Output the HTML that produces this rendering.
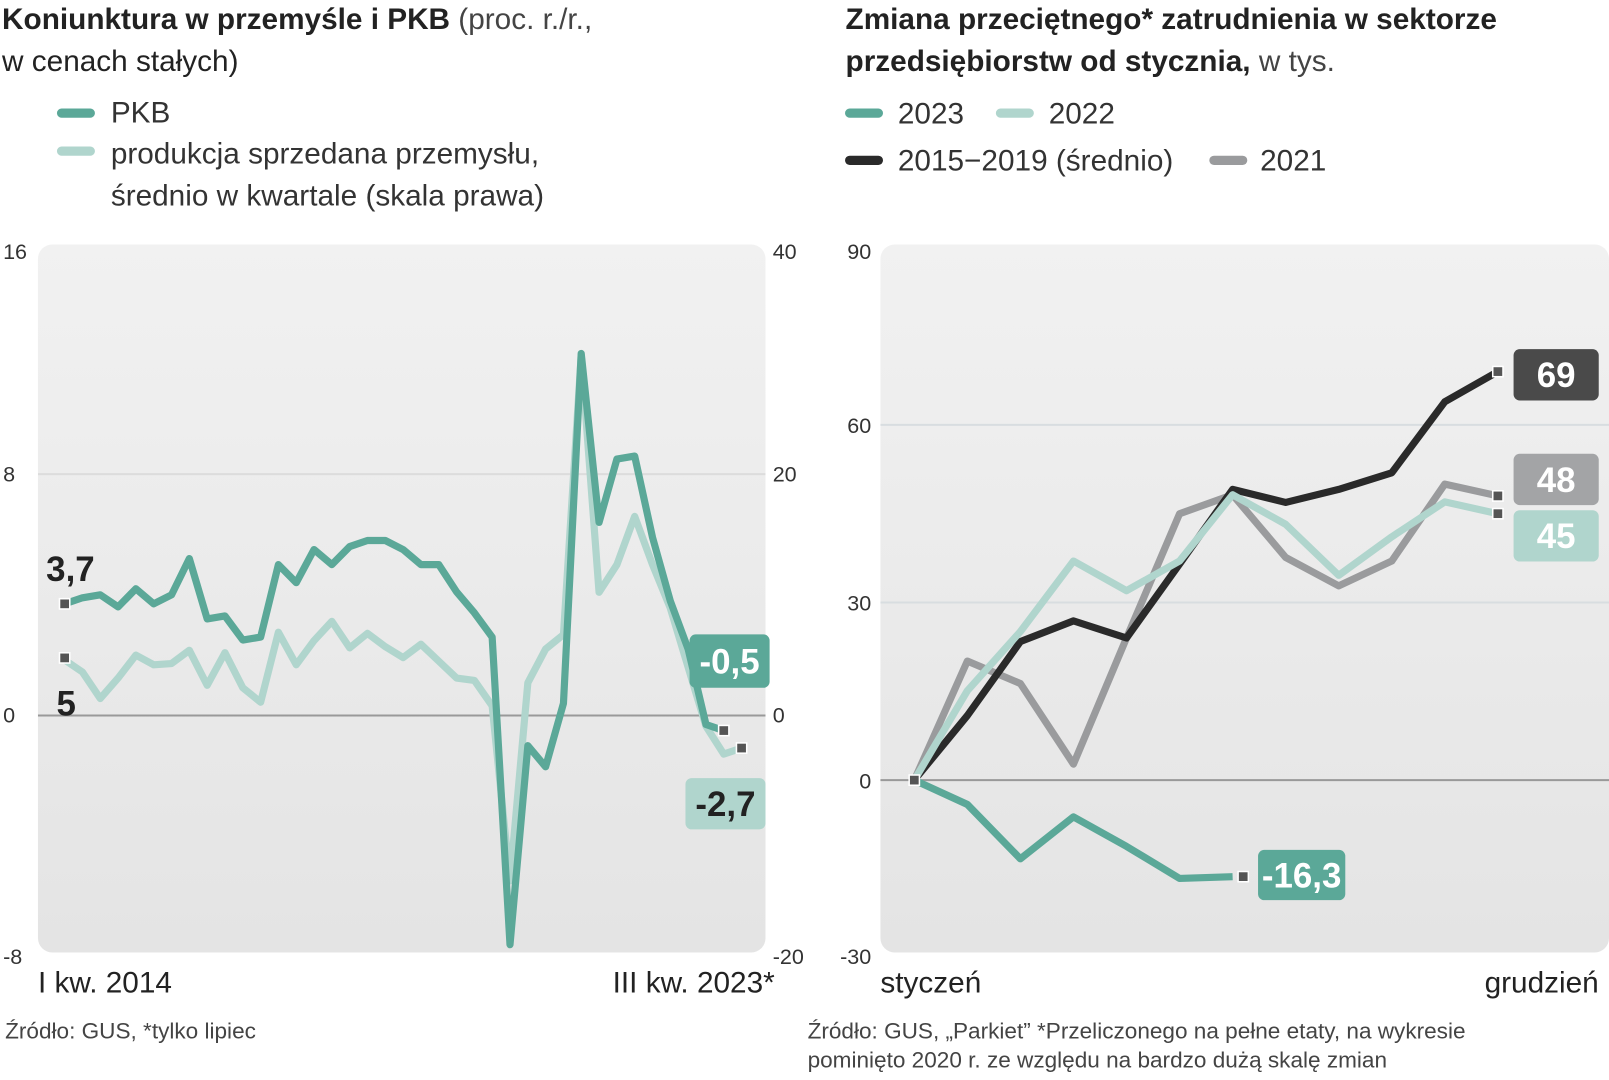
<!DOCTYPE html>
<html><head><meta charset="utf-8"><style>
html,body{margin:0;padding:0;background:#fff;}
svg{display:block;font-family:"Liberation Sans Narrow","Liberation Sans",sans-serif;}
.t{fill:#222;font-size:29px;}
.tb{font-weight:bold;}
.l{fill:#333;font-size:29px;}
.ax{fill:#333;font-size:21px;}
.src{fill:#444;font-size:22px;}
.lab{font-weight:bold;font-size:34px;}
</style></head><body>
<svg id="s" width="1609" height="1080" viewBox="0 0 1568 1052" xmlns="http://www.w3.org/2000/svg">
<defs>
<linearGradient id="bg" x1="0" y1="0" x2="0" y2="1"><stop offset="0" stop-color="#f1f1f1"/><stop offset="1" stop-color="#e4e4e4"/></linearGradient>
</defs>
<!-- Left header -->
<text x="2" y="28" class="t"><tspan class="tb">Koniunktura w przemyśle i PKB</tspan><tspan fill="#444"> (proc. r./r.,</tspan></text>
<text x="2" y="69" class="t" fill="#444">w cenach stałych)</text>
<line x1="60" y1="110" x2="88" y2="110" stroke="#5ba898" stroke-width="9" stroke-linecap="round"/>
<text x="108" y="119" class="l">PKB</text>
<line x1="60" y1="147" x2="88" y2="147" stroke="#b0d5cd" stroke-width="9" stroke-linecap="round"/>
<text x="108" y="159" class="l">produkcja sprzedana przemysłu,</text>
<text x="108" y="200" class="l">średnio w kwartale (skala prawa)</text>
<!-- Right header -->
<text x="824" y="28" class="t tb">Zmiana przeciętnego* zatrudnienia w sektorze</text>
<text x="824" y="69" class="t"><tspan class="tb">przedsiębiorstw od stycznia,</tspan><tspan fill="#444"> w tys.</tspan></text>
<line x1="828" y1="110" x2="856" y2="110" stroke="#5ba898" stroke-width="9" stroke-linecap="round"/>
<text x="875" y="120" class="l">2023</text>
<line x1="975" y1="110" x2="1003" y2="110" stroke="#b0d5cd" stroke-width="9" stroke-linecap="round"/>
<text x="1022" y="120" class="l">2022</text>
<line x1="828" y1="156" x2="856" y2="156" stroke="#2a2a2a" stroke-width="9" stroke-linecap="round"/>
<text x="875" y="166" class="l">2015−2019 (średnio)</text>
<line x1="1183" y1="156" x2="1211" y2="156" stroke="#9a9b9d" stroke-width="9" stroke-linecap="round"/>
<text x="1228" y="166" class="l">2021</text>

<rect x="37" y="238" width="709" height="690" rx="14" fill="url(#bg)"/>
<rect x="858" y="238" width="710" height="690" rx="14" fill="url(#bg)"/>
<g id="L"></g><g id="R"></g>

<text x="37" y="967" class="t">I kw. 2014</text>
<text x="755" y="967" class="t" text-anchor="end">III kw. 2023*</text>
<text x="858" y="967" class="t">styczeń</text>
<text x="1558" y="967" class="t" text-anchor="end">grudzień</text>
<text x="5" y="1012" class="src">Źródło: GUS, *tylko lipiec</text>
<text x="787" y="1012" class="src">Źródło: GUS, „Parkiet” *Przeliczonego na pełne etaty, na wykresie</text>
<text x="787" y="1040" class="src">pominięto 2020 r. ze względu na bardzo dużą skalę zmian</text>
</svg>
<script>
const pkb=[3.7,3.9,4.0,3.6,4.2,3.7,4.0,5.2,3.2,3.3,2.5,2.6,5.0,4.4,5.5,5.0,5.6,5.8,5.8,5.5,5.0,5.0,4.1,3.4,2.6,-7.6,-1.0,-1.7,0.4,12.0,6.4,8.5,8.6,5.9,3.8,2.2,-0.3,-0.5];
const prod=[4.6,3.6,1.4,3.1,5.0,4.2,4.3,5.4,2.5,5.2,2.3,1.1,6.9,4.2,6.2,7.8,5.6,6.8,5.7,4.8,5.9,4.5,3.1,2.9,0.8,-13.7,2.7,5.5,6.7,29.9,10.2,12.5,16.5,12.5,8.9,4.0,-0.9,-3.2,-2.7];
const leftTicks=[16,8,0,-8];
const rightTicks=[40,20,0,-20];
const avg1519=[0,10.9,23.4,26.9,24,36.5,49.1,46.9,49.1,51.9,63.9,69];
const y2021=[0,20.1,16.3,2.7,24,45,48.2,37.6,32.8,37,50,48];
const y2022=[0,15.1,25.1,37,32,37,48.2,43.2,34.6,41.1,47,45];
const y2023=[0,-4.1,-13.3,-6.2,-11.2,-16.6,-16.3];
const rTicks=[90,60,30,0,-30];
const NS="http://www.w3.org/2000/svg";
function mk(p,tag,at){const e=document.createElementNS(NS,tag);for(const k in at)e.setAttribute(k,at[k]);p.appendChild(e);return e;}
const L=document.getElementById('L'),R=document.getElementById('R');
// left axes
const lx=i=>63+17.36*i, ly=v=>697-29.4*v, ly2=v=>697-11.76*v;
leftTicks.forEach((t,i)=>{const y=ly(t);
 if(t===8){const g=mk(L,'line',{x1:37,x2:746,y1:y,y2:y,stroke:'#dcdcdc','stroke-width':2});}
 if(t===0){const g=mk(L,'line',{x1:37,x2:746,y1:y,y2:y,stroke:'#999','stroke-width':2});}
 const tx=mk(L,'text',{x:3,y:Math.min(Math.max(y+7,252),939),class:'ax'});tx.textContent=t;
 
 
 const r=mk(L,'text',{x:753,y:Math.min(Math.max(y+7,252),939),class:'ax'});r.textContent=rightTicks[i];
 
 
});
function line(p,arr,fx,fy,col,name){const d=arr.map((v,i)=>(i?'L':'M')+fx(i).toFixed(1)+','+fy(v).toFixed(1)).join('');
 const e=mk(p,'path',{d:d,fill:'none',stroke:col,'stroke-width':7,'stroke-linejoin':'round'});
 
 }
function marker(p,x,y,name){const e=mk(p,'rect',{x:x-5,y:y-5,width:10,height:10,fill:'#555',stroke:'#fff','stroke-width':1.5});
 
 }
function box(p,x,y,w,h,fill,txt,tcol,name){const g=mk(p,'g',{});
 
 
 mk(g,'rect',{x:x,y:y,width:w,height:h,rx:6,fill:fill});
 const t=mk(g,'text',{x:x+w/2,y:y+h/2+12,'text-anchor':'middle',class:'lab',fill:tcol});t.textContent=txt;}
line(L,prod,lx,ly2,'#b0d5cd','production-line');
line(L,pkb,lx,ly,'#5ba898','pkb-line');
marker(L,lx(0),ly(pkb[0]),'pkb-start-marker');
marker(L,lx(0),ly2(prod[0])-2,'production-start-marker');
marker(L,lx(pkb.length-1),ly(pkb[pkb.length-1]),'pkb-end-marker');
marker(L,lx(prod.length-1),ly2(prod[prod.length-1]),'production-end-marker');
let t1=mk(L,'text',{x:45,y:566,class:'lab',fill:'#222'});t1.textContent='3,7';


let t2=mk(L,'text',{x:55,y:697,class:'lab',fill:'#222'});t2.textContent='5';


box(L,672,618,78,52,'#5ba898','-0,5','#fff','pkb-end-label');
box(L,668,758,78,50,'#b0d5cd','-2,7','#222','production-end-label');
// right chart
const rx=i=>891+51.7*i, ry=v=>760-5.77*v;
rTicks.forEach(t=>{const y=ry(t);
 if(t===60||t===30){const g=mk(R,'line',{x1:858,x2:1568,y1:y,y2:y,stroke:'#d8dde0','stroke-width':2});}
 if(t===0){const g=mk(R,'line',{x1:858,x2:1568,y1:y,y2:y,stroke:'#999','stroke-width':2});}
 const tx=mk(R,'text',{x:849,y:Math.min(Math.max(y+8,252),939),class:'ax','text-anchor':'end'});tx.textContent=t;
 
 
});
line(R,y2021,rx,ry,'#9a9b9d','line-2021');
line(R,avg1519,rx,ry,'#2a2a2a','line-2015-2019');
line(R,y2022,rx,ry,'#b0d5cd','line-2022');
line(R,y2023,rx,ry,'#5ba898','line-2023');
marker(R,rx(0),ry(0),'right-start-marker');
marker(R,rx(11),ry(avg1519[11]),'avg-end-marker');
marker(R,rx(11),ry(y2021[11]),'2021-end-marker');
marker(R,rx(11),ry(y2022[11]),'2022-end-marker');
marker(R,rx(6.2),ry(y2023[6]),'2023-end-marker');
box(R,1475,340,83,50,'#4a4a4a','69','#fff','avg-end-label');
box(R,1475,442,83,50,'#a3a4a6','48','#fff','2021-end-label');
box(R,1475,497,83,50,'#b0d5cd','45','#fff','2022-end-label');
box(R,1226,828,85,49,'#5ba898','-16,3','#fff','2023-end-label');
</script>
</body></html>
